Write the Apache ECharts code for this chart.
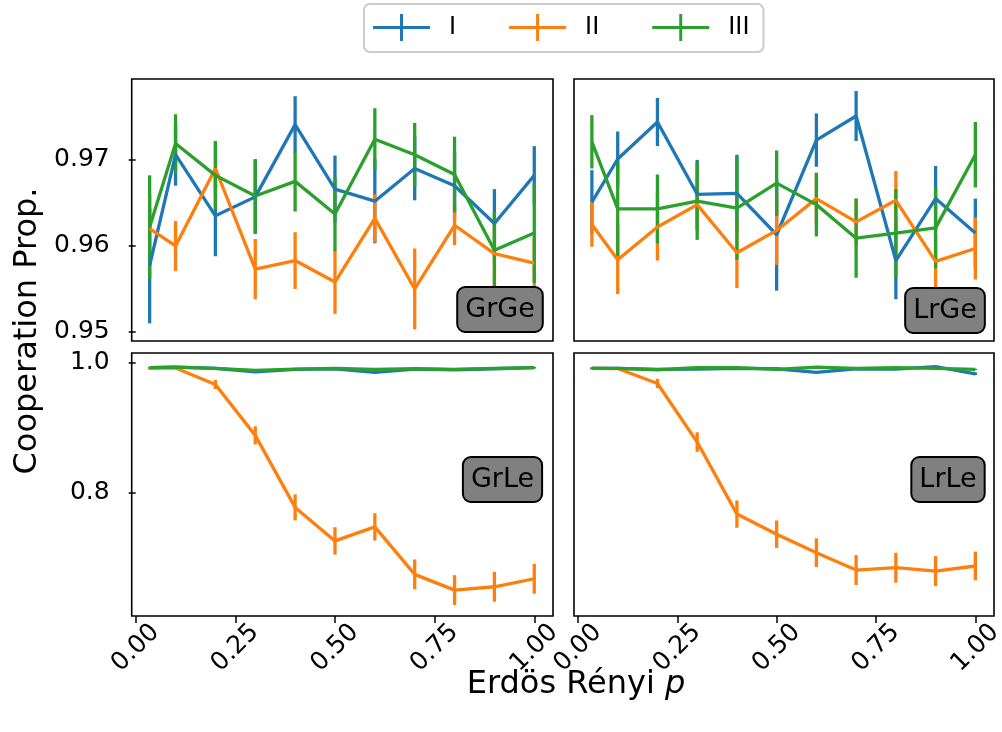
<!DOCTYPE html>
<html>
<head>
<meta charset="utf-8">
<script src="https://cdn.jsdelivr.net/npm/echarts@6/dist/echarts.min.js"></script>
<style>
  html, body { margin: 0; padding: 0; background: #fff; }
  #chart { width: 1002px; height: 732px; }
</style>
</head>
<body>
<div id="chart"></div>
<script>
// Erdos-Renyi p values (first point sits just right of 0)
const pValues = [0.035, 0.1, 0.2, 0.3, 0.4, 0.5, 0.6, 0.7, 0.8, 0.9, 1.0];
const xTicks = [0, 0.25, 0.5, 0.75, 1.0];
const seriesNames = ["I", "II", "III"];
const colors = ["#1f77b4", "#ff7f0e", "#2ca02c"];

// GrGe (top left)
const grgeI = [0.9577, 0.9706, 0.9635, 0.9657, 0.9741, 0.9666, 0.9652, 0.9690, 0.9670, 0.9626, 0.9682];
const grgeIErr = [0.0067, 0.0036, 0.0047, 0.0043, 0.0033, 0.0039, 0.0049, 0.0037, 0.0040, 0.0040, 0.0034];
const grgeII = [0.9620, 0.9600, 0.9690, 0.9573, 0.9583, 0.9558, 0.9632, 0.9550, 0.9624, 0.9591, 0.9580];
const grgeIIErr = [0.0040, 0.0029, 0.0030, 0.0035, 0.0033, 0.0037, 0.0028, 0.0047, 0.0023, 0.0040, 0.0030];
const grgeIII = [0.9622, 0.9719, 0.9682, 0.9658, 0.9675, 0.9637, 0.9724, 0.9706, 0.9683, 0.9595, 0.9615];
const grgeIIIErr = [0.0060, 0.0034, 0.0040, 0.0043, 0.0035, 0.0043, 0.0036, 0.0037, 0.0044, 0.0045, 0.0058];

// LrGe (top right)
const lrgeI = [0.9651, 0.9701, 0.9744, 0.9660, 0.9661, 0.9613, 0.9723, 0.9751, 0.9583, 0.9655, 0.9615];
const lrgeIErr = [0.0037, 0.0032, 0.0028, 0.0040, 0.0045, 0.0065, 0.0031, 0.0029, 0.0045, 0.0038, 0.0040];
const lrgeII = [0.9625, 0.9584, 0.9622, 0.9648, 0.9592, 0.9618, 0.9655, 0.9628, 0.9653, 0.9582, 0.9597];
const lrgeIIErr = [0.0026, 0.0040, 0.0039, 0.0030, 0.0041, 0.0040, 0.0030, 0.0027, 0.0034, 0.0032, 0.0036];
const lrgeIII = [0.9721, 0.9643, 0.9643, 0.9652, 0.9644, 0.9673, 0.9648, 0.9609, 0.9615, 0.9621, 0.9706];
const lrgeIIIErr = [0.0031, 0.0055, 0.0040, 0.0045, 0.0060, 0.0038, 0.0037, 0.0046, 0.0051, 0.0047, 0.0038];

// GrLe (bottom left)
const grleI = [0.9923, 0.9933, 0.9913, 0.9861, 0.9897, 0.9907, 0.9850, 0.9902, 0.9892, 0.9907, 0.9923];
const grleIErr = [0.001, 0.001, 0.001, 0.002, 0.001, 0.001, 0.002, 0.001, 0.001, 0.001, 0.001];
const grleII = [0.9915, 0.9920, 0.9666, 0.8884, 0.7778, 0.7263, 0.7479, 0.6749, 0.6507, 0.6559, 0.6682];
const grleIIErr = [0.002, 0.002, 0.007, 0.014, 0.020, 0.021, 0.021, 0.023, 0.023, 0.023, 0.023];
const grleIII = [0.9923, 0.9933, 0.9913, 0.9882, 0.9902, 0.9913, 0.9897, 0.9907, 0.9897, 0.9913, 0.9923];
const grleIIIErr = [0.001, 0.001, 0.001, 0.001, 0.001, 0.001, 0.001, 0.001, 0.001, 0.001, 0.001];

// LrLe (bottom right)
const lrleI = [0.9913, 0.9913, 0.9897, 0.9902, 0.9913, 0.9907, 0.9850, 0.9907, 0.9902, 0.9940, 0.9830];
const lrleIErr = [0.001, 0.001, 0.001, 0.001, 0.001, 0.001, 0.002, 0.001, 0.001, 0.001, 0.002];
const lrleII = [0.9913, 0.9910, 0.9681, 0.8781, 0.7675, 0.7366, 0.7083, 0.6816, 0.6852, 0.6800, 0.6878];
const lrleIIErr = [0.002, 0.002, 0.007, 0.015, 0.021, 0.021, 0.022, 0.023, 0.023, 0.023, 0.022];
const lrleIII = [0.9913, 0.9913, 0.9892, 0.9923, 0.9923, 0.9897, 0.9933, 0.9913, 0.9923, 0.9913, 0.9897];
const lrleIIIErr = [0.001, 0.001, 0.001, 0.001, 0.001, 0.001, 0.001, 0.001, 0.001, 0.001, 0.001];

const panels = [
  { tag: "GrGe", means: [grgeI, grgeII, grgeIII], errs: [grgeIErr, grgeIIErr, grgeIIIErr] },
  { tag: "LrGe", means: [lrgeI, lrgeII, lrgeIII], errs: [lrgeIErr, lrgeIIErr, lrgeIIIErr] },
  { tag: "GrLe", means: [grleI, grleII, grleIII], errs: [grleIErr, grleIIErr, grleIIIErr] },
  { tag: "LrLe", means: [lrleI, lrleII, lrleIII], errs: [lrleIErr, lrleIIErr, lrleIIIErr] },
];

const font = "DejaVu Sans";
const tickFont = 25;
const grids = [
  { left: 131.7, top: 79, width: 421.3, height: 262 },
  { left: 574, top: 79, width: 420, height: 262 },
  { left: 131.7, top: 353, width: 421.3, height: 263 },
  { left: 574, top: 353, width: 420, height: 263 },
];
const yRanges = [
  { min: 0.94895, max: 0.9794, ticks: [0.95, 0.96, 0.97], digits: 2 },
  { min: 0.611, max: 1.0149, ticks: [0.8, 1.0], digits: 1 },
];
const tagBoxes = [
  { x: 500, y: 309.5 },
  { x: 945, y: 310.5 },
  { x: 502.5, y: 479.5 },
  { x: 948, y: 479.5 },
];

const xAxes = grids.map((g, i) => {
  const bottom = i >= 2;
  return {
    type: "value",
    gridIndex: i,
    min: -0.01,
    max: 1.047,
    axisLine: { show: false },
    splitLine: { show: false },
    axisTick: {
      show: bottom,
      customValues: xTicks,
      length: 7,
      lineStyle: { color: "#000", width: 1.5 },
    },
    axisLabel: {
      show: bottom,
      customValues: xTicks,
      formatter: (v) => v.toFixed(2),
      rotate: 45,
      align: "center",
      verticalAlign: "middle",
      margin: 32,
      fontSize: tickFont,
      fontFamily: font,
      color: "#000",
    },
  };
});

const yAxes = grids.map((g, i) => {
  const r = yRanges[i >= 2 ? 1 : 0];
  const left = i % 2 === 0;
  return {
    type: "value",
    gridIndex: i,
    min: r.min,
    max: r.max,
    axisLine: { show: false },
    splitLine: { show: false },
    axisTick: {
      show: left,
      customValues: r.ticks,
      length: 7,
      lineStyle: { color: "#000", width: 1.5 },
    },
    axisLabel: {
      show: left,
      customValues: r.ticks,
      formatter: (v) => v.toFixed(r.digits),
      margin: 22,
      fontSize: tickFont,
      fontFamily: font,
      color: "#000",
    },
  };
});

const series = [];
panels.forEach((panel, p) => {
  seriesNames.forEach((name, s) => {
    const m = panel.means[s];
    const e = panel.errs[s];
    series.push({
      type: "line",
      name: name,
      xAxisIndex: p,
      yAxisIndex: p,
      data: pValues.map((x, i) => [x, m[i]]),
      symbol: "none",
      showSymbol: false,
      color: colors[s],
      itemStyle: { color: colors[s] },
      lineStyle: { color: colors[s], width: 3.3 },
      silent: true,
    });
    series.push({
      type: "custom",
      name: name,
      coordinateSystem: "cartesian2d",
      xAxisIndex: p,
      yAxisIndex: p,
      data: pValues.map((x, i) => [x, m[i] - e[i], m[i] + e[i]]),
      encode: { x: 0, y: [1, 2] },
      silent: true,
      renderItem: (params, api) => {
        const a = api.coord([api.value(0), api.value(1)]);
        const b = api.coord([api.value(0), api.value(2)]);
        return {
          type: "line",
          shape: { x1: a[0], y1: a[1], x2: b[0], y2: b[1] },
          style: { stroke: colors[s], lineWidth: 3.3 },
        };
      },
    });
  });
});

const graphics = [
  {
    type: "text",
    x: 28,
    y: 331,
    rotation: Math.PI / 2,
    style: {
      text: "Cooperation Prop.",
      fontSize: 32,
      fontFamily: font,
      fill: "#000",
      align: "center",
      verticalAlign: "middle",
    },
  },
  {
    type: "text",
    x: 576,
    y: 685,
    style: {
      text: "Erdös Rényi {it|p}",
      fontSize: 32,
      fontFamily: font,
      fill: "#000",
      align: "center",
      verticalAlign: "middle",
      rich: { it: { fontStyle: "italic", fontSize: 32, fontFamily: font, fill: "#000" } },
    },
  },
];
panels.forEach((panel, p) => {
  graphics.push({
    type: "text",
    x: tagBoxes[p].x,
    y: tagBoxes[p].y,
    z: 100,
    style: {
      text: panel.tag,
      fontSize: 27,
      lineHeight: 27,
      fontFamily: font,
      fill: "#000",
      align: "center",
      verticalAlign: "middle",
      backgroundColor: "#808080",
      borderColor: "#000",
      borderWidth: 2,
      borderRadius: 7,
      padding: [8, 7, 8, 7],
    },
  });
});

const chart = echarts.init(document.getElementById("chart"), null, { renderer: "canvas" });
chart.setOption({
  animation: false,
  backgroundColor: "#fff",
  textStyle: { fontFamily: font, color: "#000" },
  legend: {
    data: seriesNames,
    left: 364,
    top: 4,
    orient: "horizontal",
    padding: [10, 14, 11, 9],
    itemGap: 53,
    itemWidth: 57,
    itemHeight: 27,
    icon: "path://M0,12h57v3h-57z M27,0h3v27h-3z",
    itemStyle: { borderWidth: 0 },
    backgroundColor: "#fff",
    borderColor: "#cccccc",
    borderWidth: 2,
    borderRadius: 6,
    selectedMode: false,
    textStyle: { fontSize: 24, fontFamily: font, color: "#000", padding: [0, 0, 0, 14] },
  },
  grid: grids.map((g) => ({
    left: g.left,
    top: g.top,
    width: g.width,
    height: g.height,
    show: true,
    borderColor: "#000",
    borderWidth: 1.6,
    backgroundColor: "transparent",
    containLabel: false,
    outerBoundsMode: "none",
  })),
  xAxis: xAxes,
  yAxis: yAxes,
  series: series,
  graphic: graphics,
});
</script>
</body>
</html>
